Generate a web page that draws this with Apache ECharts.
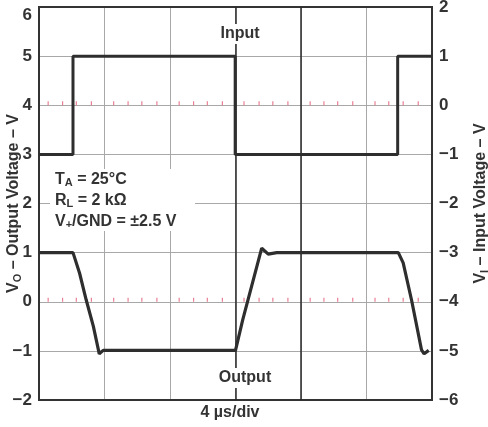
<!DOCTYPE html>
<html><head><meta charset="utf-8">
<script src="https://cdn.jsdelivr.net/npm/echarts@6/dist/echarts.min.js"></script>
<style>html,body{margin:0;padding:0;background:#fff}#c{width:488px;height:427px}</style>
</head><body><div id="c"></div>
<script>
// time in divisions (4 µs/div)
const inputX = [0, 0.519, 0.519, 2.995, 2.995, 5.476, 5.476, 6.0];
const inputV = [-1, -1, 1, 1, -1, -1, 1, 1];          // right axis, V
const outputX = [0, 0.519, 0.62, 0.72, 0.83, 0.92, 0.98, 3.0, 3.11, 3.40, 3.50, 3.63, 5.486, 5.56, 5.69, 5.84, 5.88, 5.95];
const outputV = [1.0, 1.0, 0.58, 0.04, -0.5, -1.06, -0.99, -0.99, -0.37, 1.09, 0.97, 1.0, 1.0, 0.79, 0.02, -0.98, -1.06, -0.99]; // left axis, V
const redTickX = [0.14,0.36,0.57,0.80,1.14,1.36,1.57,1.80,2.14,2.36,2.57,2.80,3.13,3.36,3.57,3.80,4.14,4.35,4.56,4.79,5.13,5.34,5.56,5.79];
const redTickLevels = [4, 0];
const leftTicks = [-2, -1, 0, 1, 2, 3, 4, 5, 6];
const rightTicks = [-6, -5, -4, -3, -2, -1, 0, 1, 2];

const FONT = '"Liberation Sans", Arial, sans-serif';
const TXT = '#333';
const minus = v => String(v).replace('-', '\u2212');

const chart = echarts.init(document.getElementById('c'));
const redTicks = [];
redTickLevels.forEach(l => redTickX.forEach(x => redTicks.push([x, l])));

const nameRich = {
  b: {fontFamily: FONT, fontWeight: 'bold', fontSize: 16, color: TXT},
  s: {fontFamily: FONT, fontWeight: 'bold', fontSize: 11, color: TXT, padding: [7, 0, 0, 0]}
};

chart.setOption({
  animation: false,
  backgroundColor: '#fff',
  grid: {left: 39, top: 7, width: 393, height: 393, containLabel: false, outerBoundsMode: 'none',
    show: true, borderColor: '#333', borderWidth: 2, backgroundColor: 'transparent', z: 3},
  xAxis: {type: 'value', min: 0, max: 6, interval: 1,
    axisLine: {show: false}, axisTick: {show: false}, axisLabel: {show: false},
    splitLine: {show: true, lineStyle: {color: '#a8a8a8', width: 1}}},
  yAxis: [
    {type: 'value', min: leftTicks[0], max: leftTicks[leftTicks.length-1], interval: 1, position: 'left',
      axisLine: {show: false}, axisTick: {show: false},
      axisLabel: {margin: 7, color: TXT, fontFamily: FONT, fontWeight: 'bold', fontSize: 17, formatter: minus,
        verticalAlignMaxLabel: 'top'},
      splitLine: {show: true, lineStyle: {color: '#a8a8a8', width: 1}},
      name: '{b|V}{s|O}{b| \u2013 Output Voltage \u2013 V}', nameLocation: 'middle', nameRotate: 90, nameGap: 16,
      nameMoveOverlap: false,
      nameTextStyle: {rich: nameRich}},
    {type: 'value', min: rightTicks[0], max: rightTicks[rightTicks.length-1], interval: 1, position: 'right',
      axisLine: {show: false}, axisTick: {show: false},
      axisLabel: {margin: 7, color: TXT, fontFamily: FONT, fontWeight: 'bold', fontSize: 17, formatter: minus},
      splitLine: {show: false},
      name: '{b|V}{s|I}{b| \u2013 Input Voltage \u2013 V}', nameLocation: 'middle', nameRotate: 90, nameGap: 40,
      nameMoveOverlap: false,
      nameTextStyle: {rich: nameRich}}
  ],
  series: [
    {type: 'scatter', yAxisIndex: 0, silent: true, symbol: 'rect', symbolSize: [1.2, 4], symbolOffset: [0, -2],
      itemStyle: {color: '#e4607a'}, data: redTicks, z: 2,
      markLine: {silent: true, symbol: 'none', label: {show: false},
        lineStyle: {color: '#2a2a2a', width: 1.5, type: 'solid'},
        data: [{xAxis: 3}, {xAxis: 4}]}},
    {type: 'line', yAxisIndex: 1, name: 'Input', symbol: 'none', silent: true, z: 5,
      lineStyle: {color: '#2e2e2e', width: 3}, data: inputX.map((x, i) => [x, inputV[i]])},
    {type: 'line', yAxisIndex: 0, name: 'Output', symbol: 'none', silent: true, z: 5,
      lineStyle: {color: '#2e2e2e', width: 3.2}, data: outputX.map((x, i) => [x, outputV[i]])}
  ],
  graphic: [
    {type: 'rect', shape: {x: 215, y: 24, width: 51, height: 20}, style: {fill: '#fff'}, z: 10},
    {type: 'text', x: 240, y: 34, style: {text: 'Input', align: 'center', verticalAlign: 'middle', fill: TXT, font: 'bold 16px ' + FONT}, z: 11},
    {type: 'rect', shape: {x: 215, y: 368, width: 61, height: 20}, style: {fill: '#fff'}, z: 10},
    {type: 'text', x: 245, y: 378, style: {text: 'Output', align: 'center', verticalAlign: 'middle', fill: TXT, font: 'bold 16px ' + FONT}, z: 11},
    {type: 'rect', shape: {x: 50, y: 169, width: 145, height: 62}, style: {fill: '#fff'}, z: 10},
    {type: 'text', x: 55, y: 169, z: 11, style: {
      text: '{b|T}{s|A}{b| = 25°C}\n{b|R}{s|L}{b| = 2 kΩ}\n{b|V}{s|+}{b|/GND = ±2.5 V}',
      rich: {
        b: {fontFamily: FONT, fontWeight: 'bold', fontSize: 16, fill: TXT, lineHeight: 21},
        s: {fontFamily: FONT, fontWeight: 'bold', fontSize: 11, fill: TXT, lineHeight: 21, padding: [7, 0, 0, 0]}}}},
    {type: 'text', x: 230, y: 413, style: {text: '4 µs/div', align: 'center', verticalAlign: 'middle', fill: TXT, font: 'bold 16px ' + FONT}, z: 11}
  ]
});
</script></body></html>
